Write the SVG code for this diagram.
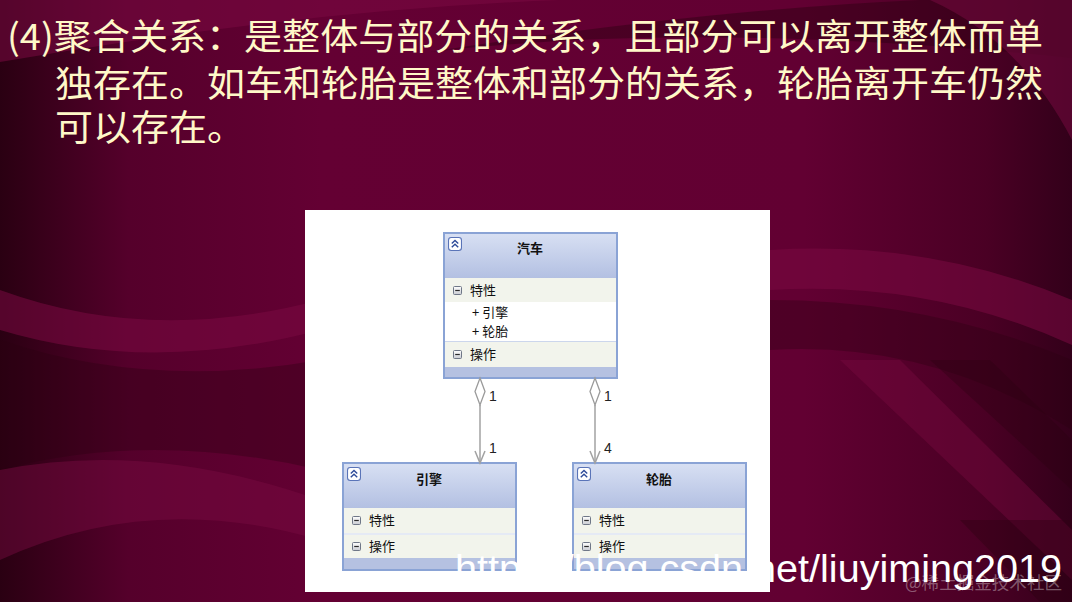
<svg xmlns="http://www.w3.org/2000/svg" width="1072" height="602" viewBox="0 0 1072 602">
<defs>
  <linearGradient id="bgH" x1="0" y1="0" x2="1" y2="0">
    <stop offset="0" stop-color="#2a0012"/>
    <stop offset="0.12" stop-color="#55002b"/>
    <stop offset="0.3" stop-color="#640033"/>
    <stop offset="0.75" stop-color="#620032"/>
    <stop offset="0.92" stop-color="#4a0024"/>
    <stop offset="1" stop-color="#33001a"/>
  </linearGradient>
  <linearGradient id="hdr" x1="0" y1="0" x2="0" y2="1">
    <stop offset="0" stop-color="#D8E0F3"/>
    <stop offset="1" stop-color="#B3C0E2"/>
  </linearGradient>
  <linearGradient id="minusG" x1="0" y1="0" x2="0" y2="1">
    <stop offset="0" stop-color="#FFFFFF"/>
    <stop offset="1" stop-color="#C9CCD2"/>
  </linearGradient>
  <symbol id="collapse" viewBox="0 0 13 13">
    <rect x="0.5" y="0.5" width="12" height="12" rx="2.5" fill="#FFFFFF" stroke="#5A74B8" stroke-width="1"/>
    <path d="M3.5 6 L6.5 3.2 L9.5 6 M3.5 9.5 L6.5 6.7 L9.5 9.5" fill="none" stroke="#2E4C9A" stroke-width="1.3"/>
  </symbol>
  <symbol id="minus" viewBox="0 0 9 9">
    <rect x="0.5" y="0.5" width="8" height="8" rx="1" fill="url(#minusG)" stroke="#6F7787" stroke-width="1"/>
    <line x1="2.2" y1="4.5" x2="6.8" y2="4.5" stroke="#2A2A2A" stroke-width="1.2"/>
  </symbol>
</defs>
<style>
  .title { font-family: "Noto Sans CJK SC", "Noto Sans CJK JP", sans-serif; font-size: 36px; fill: #FFF8C8; }
  .hdr { fill: url(#hdr); }
  .row { fill: #F2F4EC; }
  .band { fill: #B5C1E1; }
  .frame { fill: none; stroke: #8AA3D5; stroke-width: 2; }
  .sep { stroke: #CCD6EC; stroke-width: 1.2; }
  .cname { font-family: "Noto Sans CJK SC", sans-serif; font-size: 13px; font-weight: bold; fill: #111111; text-anchor: middle; }
  .ctext { font-family: "Noto Sans CJK SC", sans-serif; font-size: 13px; fill: #111111; }
  .conn { fill: none; stroke: #A2A2A2; stroke-width: 1.5; }
  .diam { fill: #FFFFFF; stroke: #9A9A9A; stroke-width: 1.3; }
  .mult { font-family: "Liberation Sans", Arial, sans-serif; font-size: 14px; fill: #222222; }
</style>

<!-- background -->
<rect x="0" y="0" width="1072" height="602" fill="url(#bgH)"/>
<path d="M0 0 L560 0 Q300 10 0 62 Z" fill="#7a0a42" opacity="0.55"/>
<path d="M430 52 Q700 20 1072 58 L1072 0 L920 0 Q700 10 430 52 Z" fill="#2c0012" opacity="0.45"/>
<path d="M930 0 L1072 0 L1072 140 Q1020 40 930 0 Z" fill="#7a0a42" opacity="0.5"/>
<path d="M0 290 Q150 345 320 300 L320 330 Q150 375 0 330 Z" fill="#7a0a42" opacity="0.55"/>
<path d="M0 340 Q150 390 320 360 L320 470 Q150 430 0 470 Z" fill="#2c0012" opacity="0.35"/>
<path d="M0 470 Q150 440 320 500 L320 540 Q150 490 0 560 Z" fill="#7a0a42" opacity="0.45"/>
<path d="M770 250 Q930 240 1072 300 L1072 345 Q930 280 770 290 Z" fill="#7a0a42" opacity="0.55"/>
<path d="M770 300 Q930 300 1072 360 L1072 430 Q930 340 770 350 Z" fill="#2c0012" opacity="0.35"/>
<path d="M840 360 L900 360 L1072 530 L1072 580 Z" fill="#7a0a42" opacity="0.4"/>
<path d="M930 360 L990 360 L1072 440 L1072 490 Z" fill="#2c0012" opacity="0.35"/>
<path d="M960 520 L1072 520 L1072 602 L1040 602 Z" fill="#2c0012" opacity="0.4"/>

<!-- heading text -->
<text class="title" x="7" y="50" textLength="1036" lengthAdjust="spacingAndGlyphs">(4)聚合关系：是整体与部分的关系，且部分可以离开整体而单</text>
<text class="title" x="55" y="97" textLength="988" lengthAdjust="spacingAndGlyphs">独存在。如车和轮胎是整体和部分的关系，轮胎离开车仍然</text>
<text class="title" x="55" y="141" textLength="190" lengthAdjust="spacingAndGlyphs">可以存在。</text>

<!-- white panel -->
<rect x="305" y="210" width="465" height="382" fill="#FFFFFF"/>

<!-- class 汽车 -->
<g id="car" transform="translate(444,233)">
  <rect class="hdr" x="0" y="0" width="173" height="45"/>
  <rect class="row" x="0" y="45" width="173" height="24"/>
  <rect x="0" y="69" width="173" height="39" fill="#FFFFFF"/>
  <line class="sep" x1="0" y1="108.5" x2="173" y2="108.5"/>
  <rect class="row" x="0" y="109" width="173" height="25"/>
  <rect class="band" x="0" y="134" width="173" height="11"/>
  <rect class="frame" x="0" y="0" width="173" height="145"/>
  <use href="#collapse" x="4" y="4" width="14" height="14"/>
  <text class="cname" x="86" y="20">汽车</text>
  <use href="#minus" x="9" y="53" width="9" height="9"/>
  <text class="ctext" x="26" y="62">特性</text>
  <text class="ctext" x="28" y="84">+ 引擎</text>
  <text class="ctext" x="28" y="103">+ 轮胎</text>
  <use href="#minus" x="9" y="117" width="9" height="9"/>
  <text class="ctext" x="26" y="126">操作</text>
</g>

<!-- class 引擎 -->
<g id="engine" transform="translate(343,463)">
  <rect class="hdr" x="0" y="0" width="173" height="45"/>
  <rect class="row" x="0" y="45" width="173" height="25"/>
  <line class="sep" x1="0" y1="71" x2="173" y2="71"/>
  <rect class="row" x="0" y="72" width="173" height="23"/>
  <rect class="band" x="0" y="95" width="173" height="12"/>
  <rect class="frame" x="0" y="0" width="173" height="107"/>
  <use href="#collapse" x="4" y="4" width="14" height="14"/>
  <text class="cname" x="86" y="21">引擎</text>
  <use href="#minus" x="9" y="53" width="9" height="9"/>
  <text class="ctext" x="26" y="62">特性</text>
  <use href="#minus" x="9" y="79" width="9" height="9"/>
  <text class="ctext" x="26" y="88">操作</text>
</g>

<!-- class 轮胎 -->
<g id="tire" transform="translate(573,463)">
  <rect class="hdr" x="0" y="0" width="173" height="45"/>
  <rect class="row" x="0" y="45" width="173" height="25"/>
  <line class="sep" x1="0" y1="71" x2="173" y2="71"/>
  <rect class="row" x="0" y="72" width="173" height="23"/>
  <rect class="band" x="0" y="95" width="173" height="12"/>
  <rect class="frame" x="0" y="0" width="173" height="107"/>
  <use href="#collapse" x="4" y="4" width="14" height="14"/>
  <text class="cname" x="86" y="21">轮胎</text>
  <use href="#minus" x="9" y="53" width="9" height="9"/>
  <text class="ctext" x="26" y="62">特性</text>
  <use href="#minus" x="9" y="79" width="9" height="9"/>
  <text class="ctext" x="26" y="88">操作</text>
</g>

<!-- connectors -->
<g id="connectors">
  <line class="conn" x1="480" y1="405" x2="480" y2="462"/>
  <polyline class="conn" points="475,451 480,463 485,451"/>
  <polygon class="diam" points="480,378 485,391.5 480,405 475,391.5"/>
  <text class="mult" x="489" y="401">1</text>
  <text class="mult" x="489" y="453">1</text>

  <line class="conn" x1="595" y1="405" x2="595" y2="462"/>
  <polyline class="conn" points="590,451 595,463 600,451"/>
  <polygon class="diam" points="595,378 600,391.5 595,405 590,391.5"/>
  <text class="mult" x="604" y="401">1</text>
  <text class="mult" x="604" y="453">4</text>
</g>

<!-- watermarks -->
<text x="455" y="582" font-family="Liberation Sans, Arial, sans-serif" font-size="39" fill="#FFFFFF" textLength="607" lengthAdjust="spacingAndGlyphs">https://blog.csdn.net/liuyiming2019</text>
<text x="905" y="589" font-family="Noto Sans CJK SC, sans-serif" font-size="17" fill="#FFFFFF" fill-opacity="0.35" textLength="157" lengthAdjust="spacingAndGlyphs">@稀土掘金技术社区</text>
</svg>
